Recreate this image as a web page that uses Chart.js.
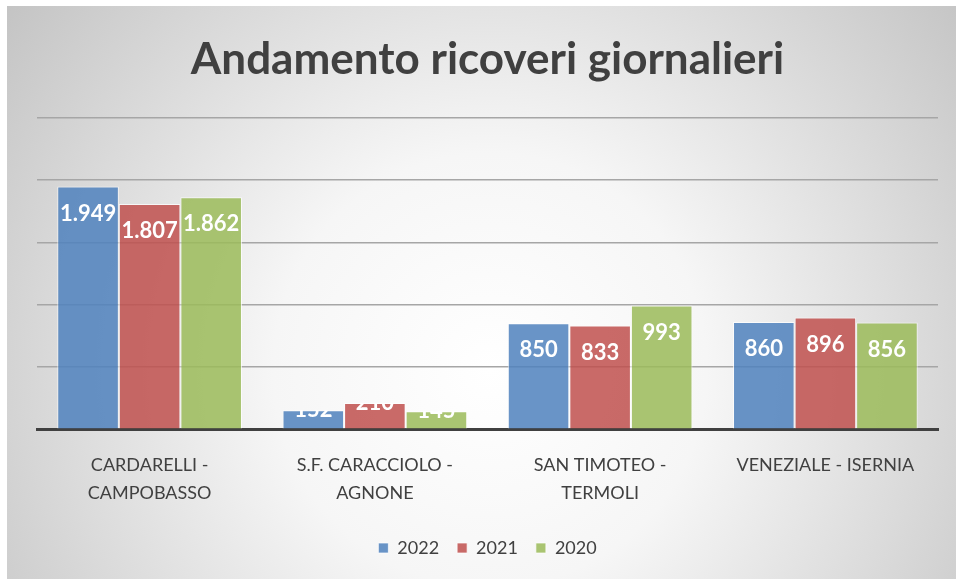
<!DOCTYPE html>
<html>
<head>
<meta charset="utf-8">
<script src="https://cdn.jsdelivr.net/npm/chart.js@4.4.1/dist/chart.umd.min.js"></script>
<style>
  html, body { margin: 0; padding: 0; background: #fff; }
  #wrap { width: 956px; height: 579px; }
</style>
</head>
<body>
<div id="wrap"><canvas id="chart"></canvas></div>
<script>
/* Values */
var ospedali = [
  ["CARDARELLI -", "CAMPOBASSO"],
  ["S.F. CARACCIOLO -", "AGNONE"],
  ["SAN TIMOTEO -", "TERMOLI"],
  "VENEZIALE - ISERNIA"
];
var anni = ["2022", "2021", "2020"];
var ricoveri_2022 = [1949, 152, 850, 860];
var ricoveri_2021 = [1807, 210, 833, 896];
var ricoveri_2020 = [1862, 145, 993, 856];
var colori = ["rgba(79,129,189,0.85)", "rgba(192,80,77,0.85)", "rgba(155,187,89,0.85)"];

/* 1949 -> "1.949" */
function formatIt(v) {
  return String(v).replace(/\B(?=(\d{3})+(?!\d))/g, ".");
}

/* grey radial background like the office chart area */
const sfondo = {
  id: 'sfondo',
  beforeDraw(chart) {
    const c = chart.ctx;
    c.save();
    c.fillStyle = '#ffffff';
    c.fillRect(0, 0, chart.width, chart.height);
    const g = c.createRadialGradient(490, 370, 0, 490, 370, 620);
    g.addColorStop(0, '#ffffff');
    g.addColorStop(0.35, '#f6f6f6');
    g.addColorStop(1, '#c2c2c2');
    c.fillStyle = g;
    c.fillRect(7, 6, chart.width - 7, chart.height - 6);
    c.restore();
  }
};

/* white labels inside the top of each bar, clipped to the bar */
const etichette = {
  id: 'etichette',
  afterDatasetsDraw(chart) {
    const c = chart.ctx;
    chart.data.datasets.forEach((ds, i) => {
      const meta = chart.getDatasetMeta(i);
      meta.data.forEach((bar, j) => {
        const w = bar.width, h = bar.base - bar.y;
        c.save();
        c.beginPath();
        c.rect(bar.x - w / 2, bar.y, w, h);
        c.clip();
        c.fillStyle = '#ffffff';
        c.font = 'bold 22px Lato';
        c.textAlign = 'center';
        c.textBaseline = 'middle';
        const ty = h > 45 ? bar.y + 27 : bar.y;
        c.fillText(formatIt(ds.data[j]), bar.x, ty);
        c.restore();
      });
    });
  }
};

const ctx = document.getElementById('chart');
new Chart(ctx, {
  type: 'bar',
  data: {
    labels: ospedali,
    datasets: [
      { label: anni[0], data: ricoveri_2022, backgroundColor: colori[0] },
      { label: anni[1], data: ricoveri_2021, backgroundColor: colori[1] },
      { label: anni[2], data: ricoveri_2020, backgroundColor: colori[2] }
    ].map(d => Object.assign(d, {
      borderColor: 'rgba(255,255,255,0.7)',
      borderWidth: 1,
      categoryPercentage: 0.82,
      barPercentage: 1.0
    }))
  },
  options: {
    responsive: true,
    maintainAspectRatio: false,
    animation: false,
    events: [],
    layout: { padding: { left: 37, right: 18, top: 0, bottom: 12 } },
    plugins: {
      title: {
        display: true,
        text: 'Andamento ricoveri giornalieri',
        color: '#404040',
        font: { family: 'Lato', size: 44, weight: 'bold' },
        padding: { top: 33, bottom: 32 }
      },
      legend: {
        position: 'bottom',
        labels: {
          color: '#404040',
          font: { family: 'Lato', size: 18 },
          boxWidth: 10,
          boxHeight: 10,
          padding: 18
        }
      },
      tooltip: { enabled: false }
    },
    scales: {
      x: {
        grid: { display: false },
        border: { color: '#404040', width: 3 },
        ticks: {
          color: '#404040',
          font: { family: 'Lato', size: 18, lineHeight: 1.55 },
          maxRotation: 0,
          padding: 14
        }
      },
      y: {
        min: 0,
        max: 2500,
        ticks: { display: false, stepSize: 500 },
        border: { display: false },
        grid: { color: '#a6a6a6', lineWidth: 1.5, drawTicks: false }
      }
    }
  },
  plugins: [sfondo, etichette]
});
</script>
</body>
</html>
